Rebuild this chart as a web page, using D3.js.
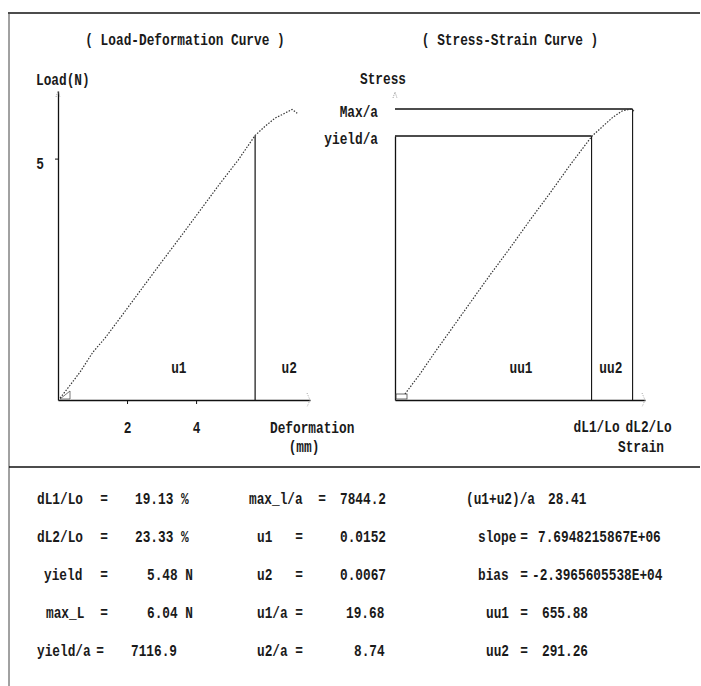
<!DOCTYPE html>
<html>
<head>
<meta charset="utf-8">
<script src="https://cdn.jsdelivr.net/npm/d3@7"></script>
<style>
  body { margin: 0; background: #fff; }
  svg { display: block; }
  text { font-family: "Liberation Mono", "DejaVu Sans Mono", monospace; font-size: 12.8px; font-weight: bold; fill: #1a1a1a; }
</style>
</head>
<body>
<svg id="chart" width="701" height="686"></svg>
<script>
// load-deformation curve (mm, N)
var deformMm = [0.06, 0.29, 0.64, 1.01, 1.36, 1.80, 2.38, 2.96, 3.54, 4.12, 4.70, 5.22, 5.71, 6.00, 6.29, 6.52, 6.78, 6.93];
var loadN    = [0.04, 0.25, 0.58, 0.99, 1.28, 1.70, 2.26, 2.82, 3.37, 3.93, 4.49, 4.97, 5.48, 5.67, 5.84, 5.92, 6.02, 5.94];

// stress-strain curve (%, stress)
var strainPct = [0.02, 1.56, 3.10, 4.64, 6.68, 8.73, 10.78, 12.83, 14.88, 16.93, 19.18, 20.31, 21.34, 22.26, 23.10, 23.49];
var stressVal = [162, 701, 1294, 1860, 2615, 3370, 4098, 4852, 5580, 6335, 7117, 7386, 7629, 7791, 7844, 7791];

var yieldDef = 5.71, yieldLoad = 5.48;
var strain1 = 19.13, strain2 = 23.33;
var yieldStress = 7116.9, maxStress = 7844.2;

var loadTicks = [5];
var deformTicks = [2, 4];

// results table
var col1Labels = ["dL1/Lo", "dL2/Lo", "yield", "max_L", "yield/a"];
var col1Values = ["19.13 %", "23.33 %", "5.48 N", "6.04 N", "7116.9"];
var col2Labels = ["max_l/a", "u1", "u2", "u1/a", "u2/a"];
var col2Values = ["7844.2", "0.0152", "0.0067", "19.68", "8.74"];
var col3Labels = ["(u1+u2)/a", "slope", "bias", "uu1", "uu2"];
var col3Values = ["28.41", "7.6948215867E+06", "-2.3965605538E+04", "655.88", "291.26"];

var svg = d3.select("#chart");

// tall printer-style text
function label(x, y, s, anchor) {
    return svg.append("text")
        .attr("transform", "translate(" + x + "," + y + ") scale(1,1.25)")
        .attr("text-anchor", anchor || "start")
        .text(s);
}

// frame
svg.append("line").attr("x1", 8).attr("x2", 700).attr("y1", 13).attr("y2", 13)
    .attr("stroke", "#111").attr("stroke-width", 1.6);
svg.append("line").attr("x1", 9).attr("x2", 9).attr("y1", 13).attr("y2", 686)
    .attr("stroke", "#444").attr("stroke-width", 1);
svg.append("line").attr("x1", 9).attr("x2", 700).attr("y1", 467).attr("y2", 467)
    .attr("stroke", "#111").attr("stroke-width", 1.6);

var lineColor = "#111";

function arrowUp(x, y) {
    svg.append("path").attr("d", "M" + (x - 2) + "," + (y + 6) + "L" + x + "," + y + "L" + (x + 2) + "," + (y + 6))
        .attr("fill", "none").attr("stroke", "#888").attr("stroke-width", 0.8).attr("stroke-dasharray", "1,1");
}
function arrowRight(x, y) {
    svg.append("path").attr("d", "M" + (x - 3) + "," + (y - 7) + "L" + x + "," + y + "L" + (x - 3) + "," + (y + 7))
        .attr("fill", "none").attr("stroke", "#888").attr("stroke-width", 0.8).attr("stroke-dasharray", "1,1.5");
}

function styleAxisText(g, yBase) {
    g.selectAll("text").each(function() {
        var t = d3.select(this);
        if (yBase !== undefined) {
            t.attr("y", yBase / 1.25).attr("dy", null);
        }
        t.attr("transform", "scale(1,1.25)")
         .style("font-family", "'Liberation Mono', monospace")
         .style("font-size", "12.8px")
         .style("font-weight", "bold")
         .attr("fill", "#1a1a1a");
    });
    g.selectAll("line").attr("stroke", lineColor);
}

// ---------- Load-Deformation ----------
var xL = d3.scaleLinear().domain([0, 7.3]).range([58, 310]);
var yL = d3.scaleLinear().domain([0, 6.4]).range([400, 91]);

label(185, 45, "( Load-Deformation Curve )", "middle");
label(36, 85, "Load(N)");

var gxL = svg.append("g").attr("transform", "translate(0,400)")
    .call(d3.axisBottom(xL).tickValues(deformTicks).tickSize(4).tickSizeOuter(0).tickFormat(d3.format("d")));
gxL.select(".domain").attr("stroke", lineColor).attr("stroke-width", 1.6);
styleAxisText(gxL, 33);

var gyL = svg.append("g").attr("transform", "translate(58,0)")
    .call(d3.axisLeft(yL).tickValues(loadTicks).tickSize(3).tickSizeOuter(0).tickPadding(11).tickFormat(d3.format("d")));
gyL.select(".domain").attr("stroke", lineColor).attr("stroke-width", 1.3);
styleAxisText(gyL);
gyL.selectAll("text").attr("dy", "0.6em");

arrowUp(58, 91);
arrowRight(310, 400);

// origin mark
svg.append("path").attr("d", "M60,399L70,399L70,391Z").attr("fill", "none").attr("stroke", "#555").attr("stroke-width", 0.8);

// yield line
svg.append("line").attr("x1", xL(yieldDef)).attr("x2", xL(yieldDef)).attr("y1", yL(0)).attr("y2", yL(yieldLoad))
    .attr("stroke", lineColor).attr("stroke-width", 1.2);

var loadLine = d3.line().x(function(d) { return xL(d[0]); }).y(function(d) { return yL(d[1]); });
svg.append("path").datum(d3.zip(deformMm, loadN))
    .attr("d", loadLine)
    .attr("fill", "none").attr("stroke", "#333").attr("stroke-width", 1.2).attr("stroke-dasharray", "1.5,1.5");

label(xL(3.5), 373, "u1", "middle");
label(xL(6.7), 373, "u2", "middle");
label(270, 433, "Deformation");
label(304, 452, "(mm)", "middle");

// ---------- Stress-Strain ----------
var xS = d3.scaleLinear().domain([-1, 24.6]).range([395, 645]);
var yS = d3.scaleLinear().domain([0, 7116.9]).range([400, 136]);

label(510, 45, "( Stress-Strain Curve )", "middle");
label(360, 84, "Stress");

var gxS = svg.append("g").attr("transform", "translate(0,400)")
    .call(d3.axisBottom(xS).tickValues([]).tickSizeOuter(0));
gxS.select(".domain").attr("stroke", lineColor).attr("stroke-width", 1.6);

var gyS = svg.append("g").attr("transform", "translate(395,0)")
    .call(d3.axisLeft(yS).tickValues([maxStress, yieldStress]).tickSize(0).tickSizeOuter(0).tickPadding(17)
        .tickFormat(function(d) { return d === maxStress ? "Max/a" : "yield/a"; }));
gyS.select(".domain").attr("stroke", lineColor).attr("stroke-width", 1.3);
styleAxisText(gyS);
gyS.selectAll("text").attr("dy", "0.45em");

arrowUp(395, 92);
arrowRight(645, 400);

svg.append("rect").attr("x", 396).attr("y", 394).attr("width", 11).attr("height", 5)
    .attr("fill", "none").attr("stroke", "#444").attr("stroke-width", 0.8);

// guide lines
svg.append("line").attr("x1", xS(-1)).attr("x2", xS(strain2)).attr("y1", yS(maxStress)).attr("y2", yS(maxStress))
    .attr("stroke", lineColor).attr("stroke-width", 1.3);
svg.append("line").attr("x1", xS(-1)).attr("x2", xS(strain1)).attr("y1", yS(yieldStress)).attr("y2", yS(yieldStress))
    .attr("stroke", lineColor).attr("stroke-width", 1.3);
svg.append("line").attr("x1", xS(strain1)).attr("x2", xS(strain1)).attr("y1", yS(0)).attr("y2", yS(yieldStress))
    .attr("stroke", lineColor).attr("stroke-width", 1.1);
svg.append("line").attr("x1", xS(strain2)).attr("x2", xS(strain2)).attr("y1", yS(0)).attr("y2", yS(maxStress))
    .attr("stroke", lineColor).attr("stroke-width", 1.1);

var stressLine = d3.line().x(function(d) { return xS(d[0]); }).y(function(d) { return yS(d[1]); });
svg.append("path").datum(d3.zip(strainPct, stressVal))
    .attr("d", stressLine)
    .attr("fill", "none").attr("stroke", "#333").attr("stroke-width", 1.2).attr("stroke-dasharray", "1.5,1.5");

label(xS(11.9), 373, "uu1", "middle");
label(xS(21.1), 373, "uu2", "middle");
label(xS(strain1) + 5, 432, "dL1/Lo", "middle");
label(xS(strain2) + 16, 432, "dL2/Lo", "middle");
label(641, 452, "Strain", "middle");

// ---------- table ----------
var rowY = [504, 542, 580, 618, 656];
var col1LabelX = [37, 37, 44, 46, 37];
var col1EqX = [104, 104, 104, 104, 100];
var col1ValX = [135, 135, 147, 147, 131];
var col2LabelX = [249, 257, 257, 257, 257];
var col2EqX = [322, 299, 299, 299, 299];
var col2ValX = [340, 340, 340, 346, 354];
var col3LabelX = [466, 478, 478, 486, 486];
var col3EqX = [null, 524, 524, 524, 524];
var col3ValX = [548, 538, 532, 542, 542];

rowY.forEach(function(y, i) {
    label(col1LabelX[i], y, col1Labels[i]);
    label(col1EqX[i], y, "=", "middle");
    label(col1ValX[i], y, col1Values[i]);
    label(col2LabelX[i], y, col2Labels[i]);
    label(col2EqX[i], y, "=", "middle");
    label(col2ValX[i], y, col2Values[i]);
    label(col3LabelX[i], y, col3Labels[i]);
    if (col3EqX[i] !== null) label(col3EqX[i], y, "=", "middle");
    label(col3ValX[i], y, col3Values[i]);
});
</script>
</body>
</html>
